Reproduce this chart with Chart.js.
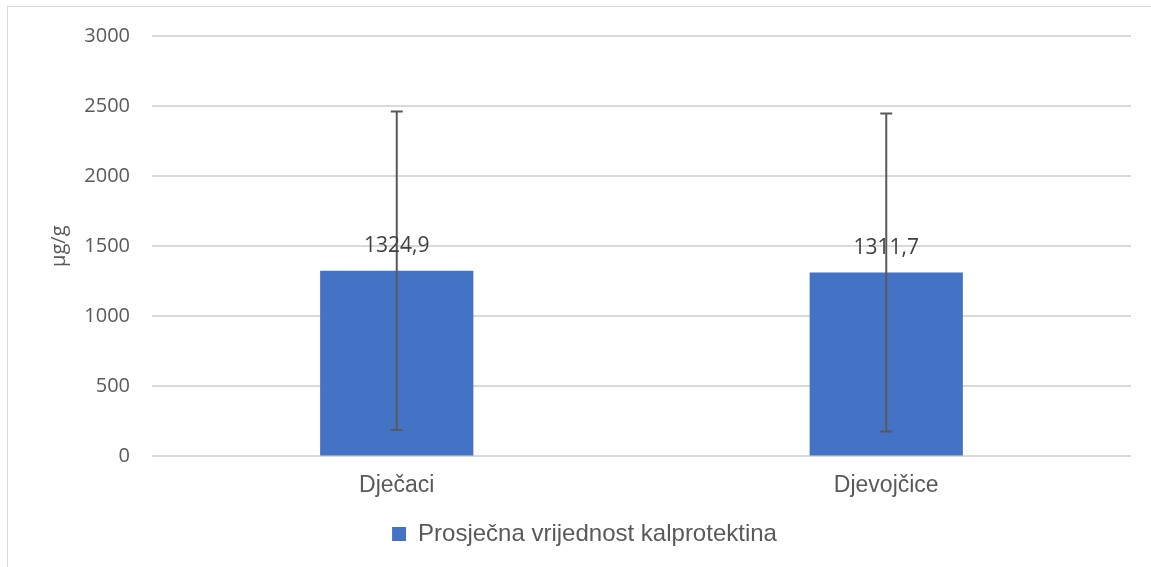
<!DOCTYPE html>
<html>
<head>
<meta charset="utf-8">
<script src="https://cdn.jsdelivr.net/npm/chart.js@4.4.0/dist/chart.umd.min.js"></script>
<style>
    html, body { margin: 0; padding: 0; background: #fff; overflow: hidden; }
    #frame { position: absolute; left: 7px; top: 6px; width: 1300px; height: 700px; border: 1px solid #d9d9d9; background: #fff; }
    #wrap { position: absolute; left: 0; top: 0; width: 1151px; height: 567px; }
</style>
</head>
<body>
<div id="frame"></div>
<div id="wrap"><canvas id="myChart" width="1151" height="567"></canvas></div>
<script>
var categories = ["Dječaci", "Djevojčice"];
var means = [1324.9, 1311.7];
var errLow = [188, 177];
var errHigh = [2462, 2447];
var meanLabels = ["1324,9", "1311,7"];
var yTicks = [0, 500, 1000, 1500, 2000, 2500, 3000];
var seriesName = "Prosječna vrijednost kalprotektina";

window.onload = function () {
    var ctx = document.getElementById("myChart").getContext("2d");

    // error bars + value labels on top of the bars
    var extras = {
        id: "extras",
        afterDatasetsDraw: function (chart) {
            var c = chart.ctx;
            var y = chart.scales.y;
            var meta = chart.getDatasetMeta(0);
            c.save();
            meta.data.forEach(function (bar, i) {
                var top = y.getPixelForValue(errHigh[i]);
                var bot = y.getPixelForValue(errLow[i]);
                c.strokeStyle = "#595959";
                c.lineWidth = 2;
                c.beginPath();
                c.moveTo(bar.x, top);
                c.lineTo(bar.x, bot);
                c.moveTo(bar.x - 6, top);
                c.lineTo(bar.x + 6, top);
                c.moveTo(bar.x - 6, bot);
                c.lineTo(bar.x + 6, bot);
                c.stroke();
            });
            c.fillStyle = "#404040";
            c.font = "21px 'Open Sans'";
            c.textAlign = "center";
            c.textBaseline = "middle";
            meta.data.forEach(function (bar, i) {
                c.fillText(meanLabels[i], bar.x, bar.y - 25);
            });
            c.restore();
        }
    };

    var chartObj = new Chart(ctx, {
        type: "bar",
        data: {
            labels: categories,
            datasets: [{
                label: seriesName,
                data: means,
                backgroundColor: "#4472C4",
                borderWidth: 0,
                categoryPercentage: 0.626,
                barPercentage: 0.5
            }]
        },
        options: {
            responsive: false,
            animation: false,
            layout: { padding: { left: 38, right: 20, top: 36, bottom: 11 } },
            plugins: {
                tooltip: { enabled: false },
                legend: {
                    position: "bottom",
                    labels: {
                        color: "#595959",
                        font: { family: "'Liberation Sans', Arial", size: 24 },
                        boxWidth: 14,
                        boxHeight: 14,
                        padding: 9
                    }
                }
            },
            scales: {
                x: {
                    afterFit: function (s) { s.height = s.height + 7; },
                    grid: { display: false },
                    border: { display: false },
                    ticks: {
                        color: "#595959",
                        font: { family: "'Liberation Sans', Arial", size: 23 },
                        padding: 7
                    }
                },
                y: {
                    min: 0,
                    max: 3000,
                    afterBuildTicks: function (s) {
                        s.ticks = yTicks.map(function (v) { return { value: v }; });
                    },
                    afterFit: function (s) { s.width = 114; },
                    grid: { color: "#d9d9d9", lineWidth: 2, drawTicks: false },
                    border: { display: false },
                    ticks: {
                        color: "#595959",
                        font: { family: "'Open Sans'", size: 20 },
                        padding: 22,
                        callback: function (v) { return String(v); }
                    },
                    title: {
                        display: true,
                        text: "µg/g",
                        color: "#595959",
                        font: { family: "'Open Sans'", size: 20 },
                        padding: { top: 9, bottom: 0 }
                    }
                }
            }
        },
        plugins: [extras]
    });
};
</script>
</body>
</html>
